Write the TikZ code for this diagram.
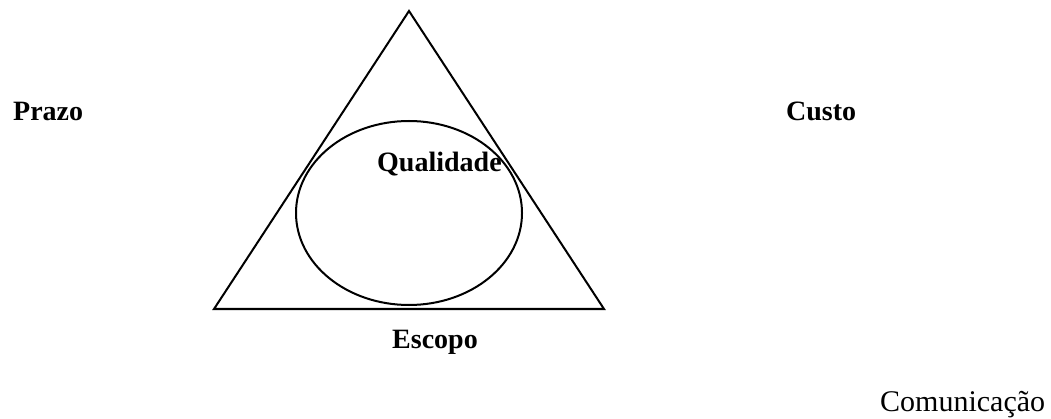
\documentclass[tikz,border=0pt]{standalone}
\usepackage{fontspec}
\setmainfont{Liberation Serif}
\begin{document}
\begin{tikzpicture}[x=1pt,y=-1pt,
  shape line/.style={line width=2pt},
  boldlabel/.style={font=\fontsize{28}{30}\selectfont\bfseries, inner sep=0pt, anchor=base west},
  plainlabel/.style={font=\fontsize{30}{32}\selectfont, inner sep=0pt, anchor=base west}]
\useasboundingbox (0,0) rectangle (1051,419);
\coordinate (apex) at (409,11);
\coordinate (bl) at (214,309);
\coordinate (br) at (604,309);
\draw[shape line, line join=miter] (apex) -- (bl) -- (br) -- cycle;
\draw[shape line] (409,213) ellipse [x radius=113, y radius=92];
\node[boldlabel] (prazo) at (13,121) {Prazo};
\node[boldlabel] (custo) at (786,121) {Custo};
\node[boldlabel] (qual) at (377,172) {Qualidade};
\node[boldlabel] (escopo) at (392,348) {Escopo};
\node[plainlabel] (comun) at (880,411) {Comunicação};
\end{tikzpicture}
\end{document}
